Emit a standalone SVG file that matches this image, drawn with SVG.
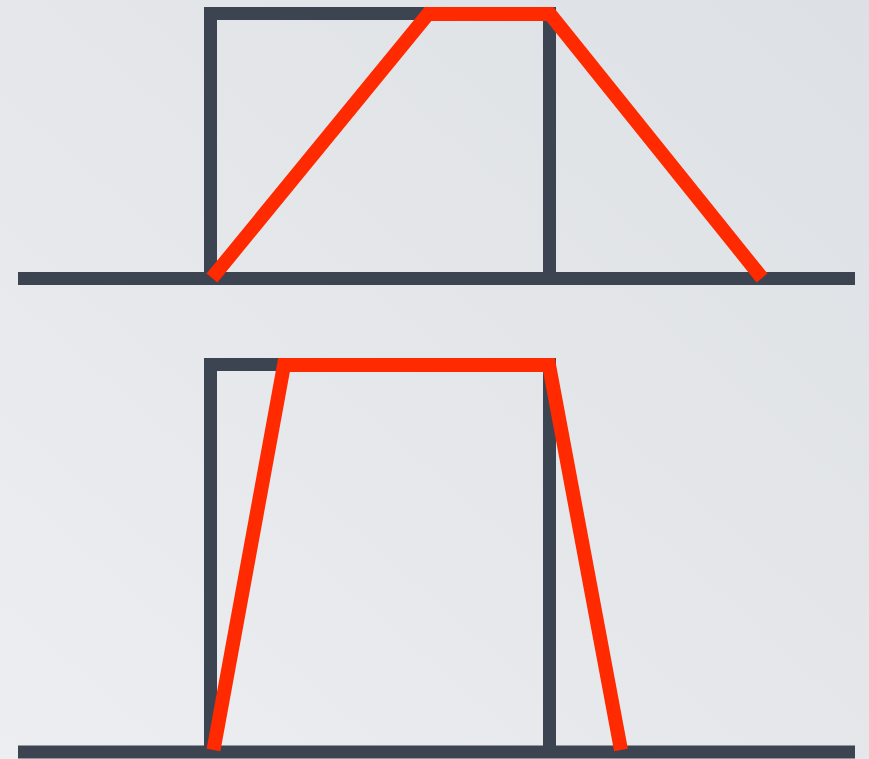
<svg xmlns="http://www.w3.org/2000/svg" width="869" height="759" viewBox="0 0 869 759">
<defs>
<linearGradient id="bg" x1="1" y1="0" x2="0" y2="1">
<stop offset="0" stop-color="#dde0e4"/>
<stop offset="1" stop-color="#eceef1"/>
</linearGradient>
<style>
.ax{fill:none;stroke:#3d4451;stroke-width:13;stroke-linecap:butt;stroke-linejoin:miter}
.rd{fill:none;stroke:#ff2a00;stroke-width:14;stroke-linecap:butt;stroke-linejoin:miter;stroke-miterlimit:10}
</style>
</defs>
<rect width="869" height="759" fill="url(#bg)"/>
<g id="top">
<path class="ax" d="M18,278.5 H855"/>
<path class="ax" d="M210.5,278 V13.5 H549.5 V278"/>
<path class="rd" d="M212,278 L428,14 L550,14 L762,278"/>
</g>
<g id="bottom">
<path class="ax" d="M18,752 H855"/>
<path class="ax" d="M210.5,752 V364.5 H549.5 V752"/>
<path class="rd" d="M213.5,750 L284,365 L549,365 L621,750"/>
</g>
</svg>
